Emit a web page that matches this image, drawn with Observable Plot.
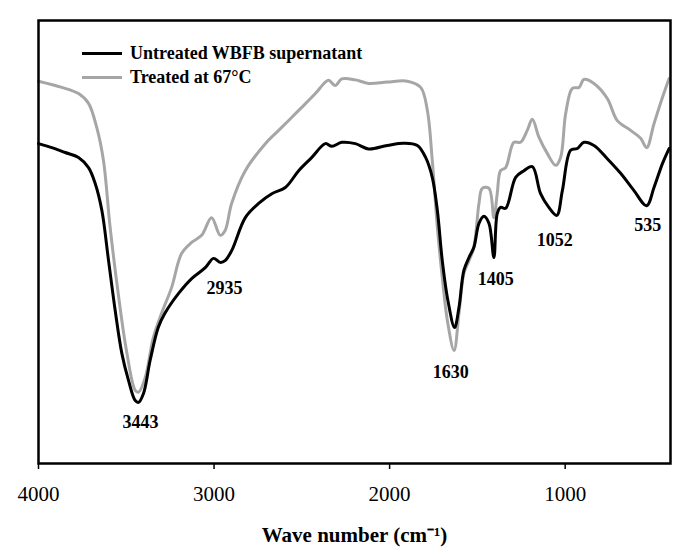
<!DOCTYPE html>
<html>
<head>
<meta charset="utf-8">
<script src="https://cdn.jsdelivr.net/npm/d3@7"></script>
<script src="https://cdn.jsdelivr.net/npm/@observablehq/plot@0.6"></script>
<style>
  body { margin: 0; background: #fff; }
  #wrap { position: relative; width: 682px; height: 554px; }
  #legend { position: absolute; left: 82px; top: 41px; font: bold 18px "Liberation Serif", serif; color: #000; }
  #legend .row { display: flex; align-items: center; height: 24px; }
  #legend .sw { width: 40px; height: 3px; margin-right: 8px; }
</style>
</head>
<body>
<div id="wrap"></div>
<script>
// Series names and colours
const seriesNames = ["Untreated WBFB supernatant", "Treated at 67°C"];
const seriesColors = ["#000000", "#a6a6a6"];

// Untreated (black) spectrum: wavenumber (cm-1) and transmittance (arbitrary %)
const untreatedWn = [4000,3924,3848,3772,3715,3677,3639,3601,3563,3525,3487,3449,3430,3402,3364,3318,3280,3202,3126,3050,3003,2965,2937,2899,2822,2746,2671,2594,2518,2443,2366,2329,2272,2195,2120,2013,1918,1842,1795,1757,1728,1700,1668,1630,1605,1577,1548,1520,1491,1463,1434,1406,1387,1368,1339,1282,1235,1187,1140,1093,1048,1016,969,931,893,836,760,684,608,536,494,446,408];
const untreatedT  = [72.2,71.3,70.2,69.1,66.8,63.2,57.1,45.8,34.5,24.8,18.7,14.2,13.8,15.8,23.3,30.7,33.9,38.4,41.8,44.2,46.3,45.4,45.8,48.1,55.5,58.7,60.9,62.3,66.1,69.1,72.2,71.6,72.5,72.2,71.0,71.8,72.3,71.8,69.1,64.6,57.1,45.8,36.8,30.7,35.2,43.6,46.5,48.8,54.2,55.8,54.2,46.5,56.4,57.8,57.6,64.6,66.1,67.0,60.9,57.8,56.0,61.6,70.7,71.1,72.5,71.8,68.8,65.5,61.6,58.2,62.3,67.7,71.1];

// Treated at 67 °C (grey) spectrum
const treatedWn = [4000,3867,3772,3715,3668,3630,3592,3546,3499,3449,3430,3392,3346,3299,3242,3185,3128,3071,3014,2965,2937,2900,2822,2708,2632,2518,2423,2366,2347,2309,2273,2195,2120,2013,1899,1823,1785,1757,1728,1700,1671,1633,1605,1577,1548,1520,1491,1472,1434,1406,1387,1368,1339,1292,1254,1216,1187,1149,1102,1054,1026,997,959,921,893,836,760,703,627,570,536,494,446,408];
const treatedT  = [86.3,84.9,83.5,81.3,75.8,68.4,53.3,38.4,25.5,16.5,16.1,19.4,28.4,33.9,39.7,47.4,49.9,51.5,55.5,51.5,52.6,58.7,66.1,72.2,75.2,79.7,83.5,86.1,86.5,85.3,86.8,86.6,85.8,86.1,86.3,84.9,79.7,68.4,53.3,42.0,32.3,25.5,33.9,42.9,45.8,48.8,58.7,62.1,62.1,55.5,60.9,66.1,66.8,72.5,72.5,75.2,77.7,73.6,70.0,67.3,69.1,79.0,84.7,84.9,86.7,85.8,82.4,77.4,75.2,73.4,71.3,76.7,82.6,86.9];

// Peak annotations
const peakLabels = ["3443", "2935", "1630", "1405", "1052", "535"];
const peakLabelWn = [3419, 2940, 1652, 1396, 1060, 530];
const peakLabelT  = [9.3, 39.5, 20.5, 41.5, 50.3, 53.7];

// Axis ticks
const xTicks = [4000, 3000, 2000, 1000];
const xTitle = "Wave number (cm⁻¹)";

const untreated = untreatedWn.map((w, i) => ({wn: w, t: untreatedT[i]}));
const treated = treatedWn.map((w, i) => ({wn: w, t: treatedT[i]}));
const peaks = peakLabels.map((l, i) => ({label: l, wn: peakLabelWn[i], t: peakLabelT[i]}));

const serif = "'Liberation Serif', 'Times New Roman', serif";

const chart = Plot.plot({
  width: 682,
  height: 554,
  marginTop: 20,
  marginBottom: 91,
  marginLeft: 38,
  marginRight: 12,
  style: {fontFamily: serif, background: "#fff", color: "#000"},
  x: {domain: [4000, 400]},
  y: {domain: [0, 100], axis: null},
  marks: [
    Plot.line(treated, {x: "wn", y: "t", stroke: seriesColors[1], strokeWidth: 3, strokeLinejoin: "round", curve: "catmull-rom"}),
    Plot.line(untreated, {x: "wn", y: "t", stroke: seriesColors[0], strokeWidth: 3, strokeLinejoin: "round", curve: "catmull-rom"}),
    Plot.text(peaks, {x: "wn", y: "t", text: "label", fontSize: 18, fontWeight: "bold", fontFamily: serif, fill: "#000", lineAnchor: "middle"}),
    Plot.axisX({ticks: xTicks, tickSize: 6, tickPadding: 17, tickFormat: d => String(d), fontSize: 21, fontFamily: serif, label: null, stroke: "#000", strokeWidth: 1.5}),
    Plot.text([xTitle], {frameAnchor: "bottom", dy: 72, text: d => d, fontSize: 21, fontWeight: "bold", fontFamily: serif, lineAnchor: "middle", fill: "#000"}),
    Plot.frame({stroke: "#000", strokeWidth: 2.5})
  ]
});

const wrap = document.getElementById("wrap");
wrap.appendChild(chart);

const legend = document.createElement("div");
legend.id = "legend";
seriesNames.forEach((name, i) => {
  const row = document.createElement("div");
  row.className = "row";
  const sw = document.createElement("span");
  sw.className = "sw";
  sw.style.background = seriesColors[i];
  const label = document.createElement("span");
  label.textContent = name;
  row.appendChild(sw);
  row.appendChild(label);
  legend.appendChild(row);
});
wrap.appendChild(legend);
</script>
</body>
</html>
